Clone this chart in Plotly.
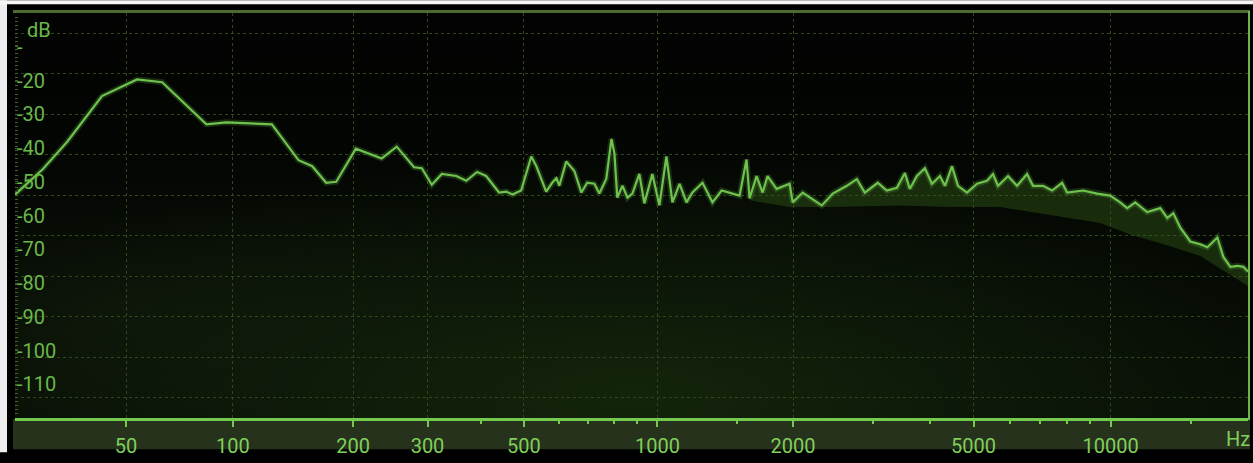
import base64
import numpy as np
import plotly.graph_objects as go

# Spectrum: frequency (Hz) and level (dB)
freq_hz = [20, 26, 32, 42, 54, 64, 85, 96, 126, 147, 159, 172, 182, 203, 234, 254, 279, 291,
           307, 324, 350, 369, 391, 410, 439, 456, 471, 493, 520, 534, 562, 580, 593, 602,
           624, 651, 675, 696, 722, 741, 768, 789, 801, 813, 835, 857, 879, 911, 935, 974,
           1010, 1047, 1080, 1120, 1161, 1197, 1260, 1326, 1389, 1469, 1523, 1578, 1603,
           1661, 1713, 1757, 1840, 1966, 1997, 2101, 2256, 2315, 2448, 2629, 2766, 2881,
           3077, 3221, 3390, 3530, 3621, 3752, 3908, 4049, 4216, 4325, 4482, 4620, 4836,
           5087, 5350, 5516, 5658, 5952, 6229, 6553, 6755, 7106, 7437, 7823, 8024, 8702,
           9341, 9975, 10493, 10871, 11319, 12024, 12847, 13311, 13720, 14216, 14952,
           15723, 16292, 17136, 17666, 18301, 18962, 19544, 20000]
level_db = [-53.8, -46.3, -38.2, -24.6, -19.7, -20.5, -33.0, -32.4, -33.0, -43.6, -45.4, -50.3,
            -50.0, -40.2, -43.1, -39.6, -45.7, -46.0, -50.9, -47.7, -48.3, -49.7, -47.1, -48.3,
            -53.2, -52.9, -53.8, -52.6, -42.5, -45.4, -52.9, -50.3, -48.9, -51.2, -44.0, -46.8,
            -53.2, -50.3, -50.6, -53.5, -49.2, -37.3, -41.6, -54.7, -51.2, -54.7, -53.5, -47.7,
            -56.4, -47.7, -57.0, -42.5, -56.1, -50.6, -56.1, -53.2, -50.3, -56.1, -52.6, -53.5,
            -54.1, -43.4, -54.9, -48.3, -53.2, -48.3, -52.1, -50.6, -56.1, -53.2, -56.1, -57.0,
            -53.5, -51.2, -49.2, -53.2, -50.3, -52.6, -51.8, -47.4, -52.1, -48.3, -46.0, -50.6,
            -48.3, -51.2, -45.4, -51.2, -53.2, -50.6, -49.7, -47.7, -51.2, -48.3, -51.2, -47.7,
            -51.2, -51.2, -52.6, -50.3, -53.2, -52.6, -53.5, -54.1, -56.1, -57.8, -56.1, -59.0,
            -57.8, -60.7, -59.3, -63.6, -67.7, -68.5, -69.4, -66.5, -72.3, -75.2, -74.9, -75.2,
            -76.6]

# Lower edge of the dim band under the upper part of the spectrum
band_hz = [1603, 1966, 2411, 3442, 4436, 5716, 7362, 9482, 11036, 13514, 15723, 17398, 19253, 20000]
band_db = [-55.5, -57.5, -57.5, -57.0, -57.5, -57.5, -59.9, -62.2, -65.6, -69.1, -72.0, -75.8,
           -79.5, -81.0]

tick_hz = [50, 100, 200, 300, 500, 1000, 2000, 5000, 10000]
tick_text = ["50", "100", "200", "300", "500", "1000", "2000", "5000", "10000"]
minor_tick_hz = [400, 600, 700, 800, 900, 1500, 3000, 4000, 6000, 7000, 8000, 9000, 15000]

db_tick_vals = [-10, -20, -30, -40, -50, -60, -70, -80, -90, -100, -110]
db_tick_text = ["-", "-20", "-30", "-40", "-50", "-60", "-70", "-80", "-90", "-100", "-110"]
grid_db = [-6, -18, -30, -42, -54, -66, -78, -90, -102, -114]

F_MIN, F_MAX = 20, 20000
DB_MIN, DB_MAX = -120, 0


def warp(f):
    """Analyser frequency scale: logarithmic with a low-end offset."""
    return np.log10(np.asarray(f, dtype=float) + 20.0)


W, H = 1253, 463
ML, MR, MT, MB = 15, 5, 13, 35
PW, PH = W - ML - MR, H - MT - MB


def px(x):
    return (x - ML) / PW


def py(y):
    return (H - MB - y) / PH


GREEN = "#6fc24d"
LABEL = "#7fcf5a"
GRID = "#33451a"
FONT = "Roboto, 'DejaVu Sans', sans-serif"

fx = np.asarray(freq_hz, dtype=float)
fy = np.asarray(level_db, dtype=float)
sel = fx >= band_hz[0]
poly_x = np.concatenate([warp(fx[sel]), warp(band_hz)[::-1]])
poly_y = np.concatenate([fy[sel], np.asarray(band_db)[::-1]])

fig = go.Figure()
fig.add_trace(go.Scatter(x=poly_x, y=poly_y, fill="toself", mode="lines",
                         line=dict(width=0), fillcolor="rgba(52,96,26,0.42)",
                         hoverinfo="skip", showlegend=False))
fig.add_trace(go.Scatter(x=warp(fx), y=fy, mode="lines",
                         line=dict(color="rgba(110,200,80,0.2)", width=6),
                         hoverinfo="skip", showlegend=False))
fig.add_trace(go.Scatter(x=warp(fx), y=fy, mode="lines",
                         line=dict(color=GREEN, width=2.2),
                         name="Spectrum", showlegend=False))
# Holder trace for the scale ruler axis
fig.add_trace(go.Scatter(x=[], y=[], yaxis="y2", showlegend=False, hoverinfo="skip"))

ruler = np.round(np.arange(0, -120.001, -1.2), 1)
label_map = {round(v, 1): t for v, t in zip(db_tick_vals, db_tick_text)}
y2_vals = sorted(set(ruler.tolist()) | set(label_map.keys()))
y2_text = [label_map.get(round(v, 1), "") for v in y2_vals]

# Background: dark panel with a faint green glow toward the bottom
svg = f"""<svg xmlns='http://www.w3.org/2000/svg' width='{PW}' height='{PH}' viewBox='0 0 {PW} {PH}' preserveAspectRatio='none'>
<defs>
<linearGradient id='v' x1='0' y1='0' x2='0' y2='1'>
<stop offset='0' stop-color='#020302'/><stop offset='1' stop-color='#070c05'/>
</linearGradient>
<radialGradient id='g' cx='0.5' cy='0.95' r='0.6'>
<stop offset='0' stop-color='#14260c' stop-opacity='0.95'/>
<stop offset='1' stop-color='#14260c' stop-opacity='0'/>
</radialGradient>
<radialGradient id='l' cx='0.1' cy='0.75' r='0.35'>
<stop offset='0' stop-color='#0e160a' stop-opacity='0.8'/>
<stop offset='1' stop-color='#0e160a' stop-opacity='0'/>
</radialGradient>
</defs>
<rect width='{PW}' height='{PH}' fill='url(#v)'/>
<rect width='{PW}' height='{PH}' fill='url(#l)'/>
<rect width='{PW}' height='{PH}' fill='url(#g)'/>
</svg>"""
bg_src = "data:image/svg+xml;base64," + base64.b64encode(svg.encode()).decode()

shapes = [
    dict(type="rect", xref="paper", yref="paper", x0=px(0), x1=px(7), y0=py(H), y1=py(0),
         fillcolor="#eeeeee", line=dict(width=0), layer="below"),
    dict(type="rect", xref="paper", yref="paper", x0=px(0), x1=px(W), y0=py(4), y1=py(0),
         fillcolor="#f6f6f6", line=dict(width=0), layer="below"),
    dict(type="rect", xref="paper", yref="paper", x0=px(13), x1=px(1250), y0=py(460), y1=py(429),
         fillcolor="#27321d", line=dict(width=0), layer="below"),
    dict(type="rect", xref="paper", yref="paper", x0=px(13), x1=px(1250), y0=py(13), y1=py(10),
         fillcolor="#4d6b2f", line=dict(width=0), layer="below"),
    dict(type="line", xref="paper", yref="paper", x0=px(1249), x1=px(1249), y0=py(430), y1=py(11),
         line=dict(color="#6cb44c", width=2), layer="above"),
]

fig.update_layout(
    width=W, height=H,
    margin=dict(l=ML, r=MR, t=MT, b=MB, pad=0),
    paper_bgcolor="#000000",
    plot_bgcolor="rgba(0,0,0,0)",
    font=dict(family=FONT, color=LABEL, size=20),
    images=[dict(source=bg_src, xref="paper", yref="paper", x=0, y=1, sizex=1, sizey=1,
                 sizing="stretch", layer="below", xanchor="left", yanchor="top")],
    shapes=shapes,
    xaxis=dict(
        range=[warp(F_MIN), warp(F_MAX)], tickmode="array",
        tickvals=warp(tick_hz), ticktext=tick_text,
        showgrid=True, gridcolor=GRID, griddash="dot", gridwidth=1,
        showline=True, linecolor="#74c94f", linewidth=3,
        ticks="outside", ticklen=6, tickwidth=2, tickcolor="#74c94f",
        ticklabelstandoff=2,
        tickfont=dict(family=FONT, size=20, color=LABEL),
        minor=dict(tickmode="array", tickvals=warp(minor_tick_hz), ticks="outside",
                   ticklen=3, tickwidth=2, tickcolor="#74c94f", showgrid=False),
        zeroline=False, fixedrange=True,
    ),
    yaxis=dict(
        range=[DB_MIN, DB_MAX], tickmode="array", tickvals=grid_db,
        showticklabels=False, ticks="",
        showgrid=True, gridcolor=GRID, griddash="dot", gridwidth=1,
        zeroline=False, showline=False, fixedrange=True,
    ),
    yaxis2=dict(
        range=[DB_MIN, DB_MAX], overlaying="y", side="left",
        tickmode="array", tickvals=y2_vals, ticktext=y2_text,
        ticks="inside", ticklen=3, tickwidth=1, tickcolor="#3f6126",
        ticklabelposition="inside", tickfont=dict(family=FONT, size=20, color="#69b84a"),
        showgrid=False, zeroline=False, showline=False, fixedrange=True,
    ),
    annotations=[
        dict(text="dB", xref="paper", yref="y", x=px(25), y=-4.9, xanchor="left",
             yanchor="middle", showarrow=False, font=dict(family=FONT, size=20, color="#69b84a")),
        dict(text="Hz", xref="paper", yref="paper", x=px(1238), y=py(450), xanchor="center",
             yanchor="middle", showarrow=False, font=dict(family=FONT, size=20, color=LABEL)),
    ],
)

fig.write_html("out.html")
